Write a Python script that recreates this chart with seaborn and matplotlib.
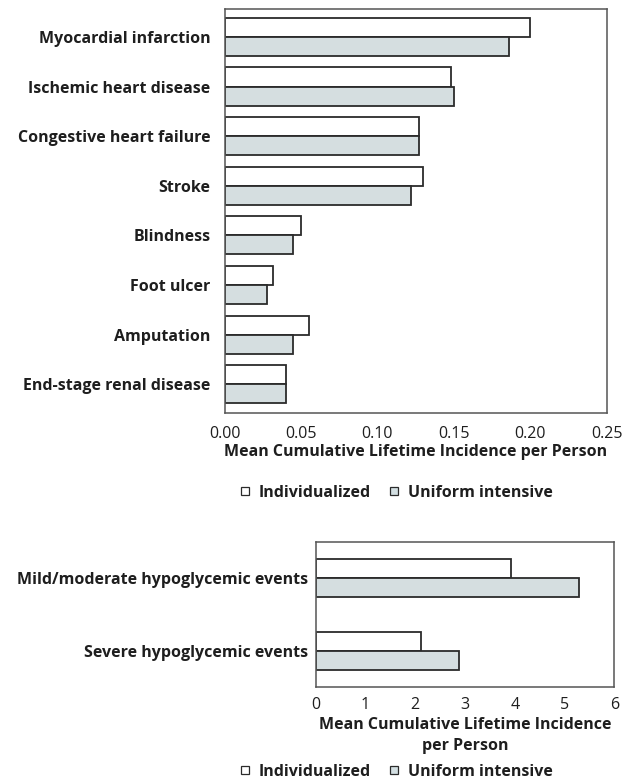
import pandas as pd
import matplotlib.pyplot as plt
import seaborn as sns
from matplotlib.lines import Line2D

# complication outcomes (top panel)
complications = ['Myocardial infarction', 'Ischemic heart disease', 'Congestive heart failure',
                 'Stroke', 'Blindness', 'Foot ulcer', 'Amputation', 'End-stage renal disease']
individualized = [0.200, 0.148, 0.127, 0.130, 0.050, 0.032, 0.055, 0.040]
uniform_intensive = [0.186, 0.150, 0.127, 0.122, 0.045, 0.028, 0.045, 0.040]

# hypoglycemia outcomes (bottom panel)
hypo_events = ['Mild/moderate hypoglycemic events', 'Severe hypoglycemic events']
hypo_individualized = [3.92, 2.12]
hypo_uniform = [5.29, 2.88]

strategies = ['Individualized', 'Uniform intensive']
x_ticks_top = [0.00, 0.05, 0.10, 0.15, 0.20, 0.25]
x_ticks_bottom = [0, 1, 2, 3, 4, 5, 6]

fill_colors = ['#ffffff', '#d3dfe2']
edge = '#2b2b2b'
text_color = '#1e1e1e'
fs = 11.5

sns.set_style('white')
plt.rcParams['font.family'] = ['Open Sans', 'DejaVu Sans']


def to_long(cats, a, b):
    df = pd.DataFrame({'outcome': cats, strategies[0]: a, strategies[1]: b})
    return df.melt(id_vars='outcome', var_name='strategy', value_name='incidence')


top_df = to_long(complications, individualized, uniform_intensive)
bottom_df = to_long(hypo_events, hypo_individualized, hypo_uniform)

fig = plt.figure(figsize=(6.31, 7.82), dpi=100)
ax1 = fig.add_axes([0.3558, 0.4725, 0.6057, 0.5164])
ax2 = fig.add_axes([0.5003, 0.1219, 0.4732, 0.1846])

sns.barplot(data=top_df, y='outcome', x='incidence', hue='strategy', orient='h',
            palette=fill_colors, width=0.77, edgecolor=edge, linewidth=1.3,
            ax=ax1, legend=False)
sns.barplot(data=bottom_df, y='outcome', x='incidence', hue='strategy', orient='h',
            palette=fill_colors, width=0.525, edgecolor=edge, linewidth=1.3,
            ax=ax2, legend=False)

ax1.set_xlim(0, 0.25)
ax1.set_ylim(7.57, -0.57)
ax1.set_xticks(x_ticks_top)
ax1.set_xticklabels([f'{t:.2f}' for t in x_ticks_top])
ax1.set_xlabel('Mean Cumulative Lifetime Incidence per Person', fontsize=fs,
               fontweight='bold', color=text_color, labelpad=2)

ax2.set_xlim(0, 6)
ax2.set_ylim(1.49, -0.49)
ax2.set_xticks(x_ticks_bottom)
ax2.set_xlabel('Mean Cumulative Lifetime Incidence\nper Person', fontsize=fs,
               fontweight='bold', color=text_color, labelpad=2.5, linespacing=1.45)

for ax, xpad, ypad in ((ax1, 9.5, 7), (ax2, 7.5, 2.5)):
    ax.set_ylabel('')
    for s in ax.spines.values():
        s.set_visible(True)
        s.set_color('#555555')
        s.set_linewidth(1.1)
    ax.tick_params(axis='x', length=0, pad=xpad, labelsize=fs, labelcolor=text_color)
    ax.tick_params(axis='y', length=3, width=0.8, color='#555555', pad=ypad, labelsize=fs,
                   labelcolor=text_color)
    for lbl in ax.get_yticklabels():
        lbl.set_fontweight('bold')

handles = [Line2D([], [], marker='s', linestyle='', markersize=6, markerfacecolor=c,
                  markeredgecolor=edge, markeredgewidth=0.9) for c in fill_colors]
leg_kw = dict(frameon=False, ncol=2, handletextpad=0.45, columnspacing=1.06, handlelength=0.8,
              prop={'weight': 'bold', 'size': fs})
leg1 = fig.legend(handles, strategies, loc='center', bbox_to_anchor=(395.5 / 631, 1 - 493 / 782), **leg_kw)
leg2 = fig.legend(handles, strategies, loc='center', bbox_to_anchor=(395.5 / 631, 1 - 772 / 782), **leg_kw)
for leg in (leg1, leg2):
    for t in leg.get_texts():
        t.set_color(text_color)

fig.savefig('out.png', dpi=100)
